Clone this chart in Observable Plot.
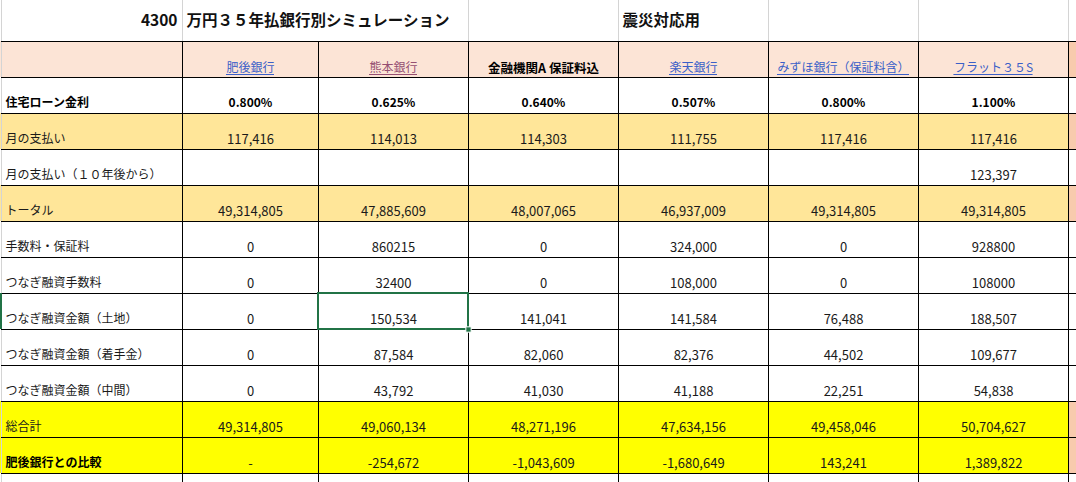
<!DOCTYPE html>
<html>
<head>
<meta charset="utf-8">
<script src="https://cdn.jsdelivr.net/npm/d3@7"></script>
<script src="https://cdn.jsdelivr.net/npm/@observablehq/plot@0.6"></script>
<style>
  html, body { margin: 0; padding: 0; background: #fff; }
  #chart svg { display: block; }
</style>
</head>
<body>
<div id="chart"></div>
<script>
// ================= DATA =================
const titleAmount = "4300";
const titleText = "万円３５年払銀行別シミュレーション";
const noteText = "震災対応用";

const banks = ["肥後銀行", "熊本銀行", "金融機関A 保証料込", "楽天銀行", "みずほ銀行（保証料含）", "フラット３５S"];
const rates = [0.800, 0.625, 0.640, 0.507, 0.800, 1.100];
const monthlyPayment = [117416, 114013, 114303, 111755, 117416, 117416];
const monthlyAfter10 = [null, null, null, null, null, 123397];
const totalPayment = [49314805, 47885609, 48007065, 46937009, 49314805, 49314805];
const feesGuarantee = [0, 860215, 0, 324000, 0, 928800];
const bridgeFee = [0, 32400, 0, 108000, 0, 108000];
const bridgeLand = [0, 150534, 141041, 141584, 76488, 188507];
const bridgeDeposit = [0, 87584, 82060, 82376, 44502, 109677];
const bridgeInterim = [0, 43792, 41030, 41188, 22251, 54838];
const grandTotal = [49314805, 49060134, 48271196, 47634156, 49458046, 50704627];
const diffVsHigo = [null, -254672, -1043609, -1680649, 143241, 1389822];

const rowLabels = ["住宅ローン金利", "月の支払い", "月の支払い（１０年後から）", "トータル", "手数料・保証料",
  "つなぎ融資手数料", "つなぎ融資金額（土地）", "つなぎ融資金額（着手金）", "つなぎ融資金額（中間）", "総合計", "肥後銀行との比較"];
const rowValues = [rates, monthlyPayment, monthlyAfter10, totalPayment, feesGuarantee,
  bridgeFee, bridgeLand, bridgeDeposit, bridgeInterim, grandTotal, diffVsHigo];
// cells typed in the sheet without thousands separators: [row label, bank]
const plainNumberCells = [["手数料・保証料", "熊本銀行"], ["手数料・保証料", "フラット３５S"],
  ["つなぎ融資手数料", "熊本銀行"], ["つなぎ融資手数料", "フラット３５S"]];
const selectedCell = ["つなぎ融資金額（土地）", "熊本銀行"];

// ================= LAYOUT / STYLE =================
const colWidths = [182, 136, 150, 150, 150, 150, 150, 8];   // A..H
const rowHeights = [41, 36, ...rowLabels.map(() => 36), 9];  // title, header, data rows, trailing
const colEdges = [0, ...Array.from(d3.cumsum(colWidths))];
const rowEdges = [0, ...Array.from(d3.cumsum(rowHeights))];
const W = colEdges[colEdges.length - 1], H = rowEdges[rowEdges.length - 1];

const peach = "#FCE4D6", peachDark = "#F8CBAD", lightYellow = "#FFE699", yellow = "#FFFF00";
const rowFill = {"月の支払い": lightYellow, "トータル": lightYellow, "総合計": yellow, "肥後銀行との比較": yellow};
const boldLabelRows = new Set(["住宅ローン金利", "肥後銀行との比較"]);
const boldValueRows = new Set(["住宅ローン金利"]);
const linkColors = {"肥後銀行": "#3A5FC8", "熊本銀行": "#954F72", "楽天銀行": "#3A5FC8", "みずほ銀行（保証料含）": "#3A5FC8", "フラット３５S": "#3A5FC8"};
const font = "'Noto Sans CJK JP', 'Noto Sans', sans-serif";
const gridGrey = "#D4D4D4", selGreen = "#217346";
const linkFontSize = 12;

// ================= DERIVED TABLES =================
const rowIndex = label => rowLabels.indexOf(label) + 2;
const colIndex = bank => banks.indexOf(bank) + 1;
const cellBox = (r, c) => ({x1: colEdges[c], x2: colEdges[c + 1], y1: rowEdges[r], y2: rowEdges[r + 1]});

const fills = [];
for (let c = 0; c < colWidths.length; c++) {
  fills.push({...cellBox(1, c), fill: c === 7 ? peachDark : peach});
}
rowLabels.forEach(label => {
  if (!rowFill[label]) return;
  const r = rowIndex(label);
  for (let c = 0; c < colWidths.length; c++) fills.push({...cellBox(r, c), fill: c === 7 ? peachDark : rowFill[label]});
});

const isPlain = (label, bank) => plainNumberCells.some(([l, b]) => l === label && b === bank);
const fmt = d3.formatLocale({decimal: ".", thousands: ",", grouping: [3], currency: ["", ""], minus: "-"}).format(",");
const valueTexts = [];
rowLabels.forEach((label, i) => {
  const r = rowIndex(label);
  rowValues[i].forEach((v, j) => {
    const bank = banks[j], c = colIndex(bank);
    let text;
    if (label === "住宅ローン金利") text = v.toFixed(3) + "%";
    else if (v == null) text = label === "肥後銀行との比較" ? "-" : "";
    else text = isPlain(label, bank) ? String(v) : fmt(v);
    if (text === "") return;
    valueTexts.push({x: (colEdges[c] + colEdges[c + 1]) / 2, y: rowEdges[r + 1], text, bold: boldValueRows.has(label)});
  });
});
const labelTexts = rowLabels.map(label => ({x: colEdges[0] + 5, y: rowEdges[rowIndex(label) + 1], text: label, bold: boldLabelRows.has(label)}));
const headerTexts = banks.map(b => ({x: (colEdges[colIndex(b)] + colEdges[colIndex(b) + 1]) / 2, y: rowEdges[2], text: b, color: linkColors[b] || "#000"}));

// underline widths for the link-styled headers
const ctx = document.createElement("canvas").getContext("2d");
ctx.font = `${linkFontSize}px ${font}`;
const linkHeaders = headerTexts.filter(d => linkColors[d.text]);
const underlines = linkHeaders.map(d => {
  const w = ctx.measureText(d.text).width;
  return {x1: d.x - w / 2, x2: d.x + w / 2, y: d.y, color: d.color};
});

const selR = rowIndex(selectedCell[0]), selC = colIndex(selectedCell[1]);
const selBox = [cellBox(selR, selC)];

// ================= PLOT =================
const textBase = {x: "x", y: "y", text: "text", fontFamily: font, lineAnchor: "middle"};
const chart = Plot.plot({
  width: W, height: H, margin: 0,
  x: {type: "linear", domain: [0, W], range: [0, W], axis: null},
  y: {type: "linear", domain: [0, H], range: [0, H], axis: null},
  color: {type: "identity"},
  style: {background: "#fff", overflow: "visible"},
  marks: [
    Plot.rect(fills, {x1: "x1", x2: "x2", y1: "y1", y2: "y2", fill: "fill"}),
    // light sheet gridlines in the title row and the left edge
    Plot.ruleX([1, 3, 4, 5, 6, 7], {x: c => colEdges[c], y1: () => rowEdges[0], y2: () => rowEdges[1], stroke: gridGrey}),
    Plot.ruleX([0], {x: () => 1, y1: () => 0, y2: () => H, stroke: gridGrey}),
    // black cell borders
    Plot.ruleX(d3.range(1, 8), {x: c => colEdges[c], y1: () => rowEdges[1], y2: () => H, stroke: "#000"}),
    Plot.ruleY(d3.range(1, rowEdges.length - 1), {y: r => rowEdges[r], x1: () => 1, x2: () => W, stroke: "#000"}),
    // title row
    Plot.text([titleAmount], {x: () => colEdges[1] - 5, y: () => rowEdges[1], text: d => d, textAnchor: "end", lineAnchor: "middle", dy: -20, fontSize: 15.5, fontWeight: "bold", fontFamily: font, fill: "#111"}),
    Plot.text([titleText], {x: () => colEdges[1] + 4, y: () => rowEdges[1], text: d => d, textAnchor: "start", lineAnchor: "middle", dy: -20, fontSize: 15.5, fontWeight: "bold", fontFamily: font, fill: "#111"}),
    Plot.text([noteText], {x: () => colEdges[4] + 4, y: () => rowEdges[1], text: d => d, textAnchor: "start", lineAnchor: "middle", dy: -20, fontSize: 15.5, fontWeight: "bold", fontFamily: font, fill: "#111"}),
    // header
    Plot.text(linkHeaders, {...textBase, dy: -9, fontSize: linkFontSize, fill: "color"}),
    Plot.ruleY(underlines, {y: "y", x1: "x1", x2: "x2", dy: -3, stroke: "color", strokeWidth: 1}),
    Plot.text(headerTexts.filter(d => !linkColors[d.text]), {...textBase, dy: -9, fontSize: 12.5, fontWeight: "bold", fill: "#000"}),
    // row labels
    Plot.text(labelTexts.filter(d => !d.bold), {...textBase, textAnchor: "start", dy: -10, fontSize: 12, fill: "#1a1a1a"}),
    Plot.text(labelTexts.filter(d => d.bold), {...textBase, textAnchor: "start", dy: -10, fontSize: 12, fontWeight: "bold", fill: "#000"}),
    // values
    Plot.text(valueTexts.filter(d => !d.bold), {...textBase, dy: -10, fontSize: 13, fill: "#1a1a1a"}),
    Plot.text(valueTexts.filter(d => d.bold), {...textBase, dy: -10, fontSize: 12, fontWeight: "bold", fill: "#000"}),
    // selected cell
    Plot.rect([cellBox(selR, 0)], {x1: () => 0, x2: () => 2, y1: "y1", y2: "y2", fill: selGreen}),
    Plot.rect(selBox, {x1: "x1", x2: "x2", y1: "y1", y2: "y2", fill: "none", stroke: selGreen, strokeWidth: 2}),
    Plot.dot(selBox, {x: "x2", y: "y2", symbol: "square", r: 3, fill: selGreen, stroke: "#fff", strokeWidth: 1})
  ]
});
document.getElementById("chart").appendChild(chart);
</script>
</body>
</html>
